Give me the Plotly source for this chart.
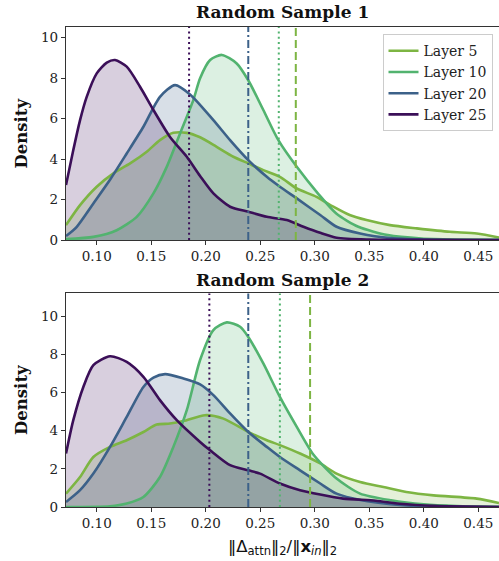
import plotly.graph_objects as go

layers = ["Layer 5", "Layer 10", "Layer 20", "Layer 25"]
colors = ["#7db543", "#52b36f", "#3c6189", "#3b0f58"]
fills = ["rgba(125,181,67,0.2)", "rgba(82,179,111,0.2)", "rgba(60,97,137,0.2)", "rgba(59,15,88,0.2)"]
mean_dash = ["8px,4px", "2px,3.3px", "8px,3px,2px,3px", "2px,3.3px"]

# ---- Random Sample 1 (density curves) ----
s1_l5_x = [0.0718, 0.0847, 0.100, 0.1153, 0.1306, 0.1459, 0.158, 0.1703, 0.1826, 0.1948, 0.21, 0.2253, 0.239, 0.2528, 0.268, 0.2835, 0.3016, 0.317, 0.332, 0.3475, 0.369, 0.3936, 0.424, 0.4486, 0.469]
s1_l5_y = [0.74, 1.73, 2.64, 3.3, 3.79, 4.37, 4.94, 5.3, 5.3, 5.08, 4.61, 4.12, 3.79, 3.46, 3.13, 2.55, 2.14, 1.65, 1.24, 0.99, 0.74, 0.58, 0.41, 0.33, 0.13]
s1_l10_x = [0.0718, 0.097, 0.1183, 0.1367, 0.152, 0.1642, 0.1764, 0.1886, 0.1948, 0.204, 0.2147, 0.2284, 0.239, 0.2528, 0.2666, 0.2835, 0.303, 0.32, 0.34, 0.367, 0.398, 0.43, 0.469]
s1_l10_y = [0.05, 0.16, 0.49, 1.15, 2.31, 3.62, 5.27, 6.92, 8.0, 8.9, 9.15, 8.73, 7.9, 6.43, 4.94, 3.62, 2.3, 1.3, 0.66, 0.25, 0.08, 0.03, 0.01]
s1_l20_x = [0.0718, 0.0817, 0.0969, 0.112, 0.1275, 0.1428, 0.158, 0.1718, 0.1856, 0.207, 0.2223, 0.239, 0.256, 0.268, 0.2835, 0.305, 0.32, 0.3416, 0.37, 0.40, 0.469]
s1_l20_y = [0.2, 0.66, 1.81, 2.97, 4.28, 5.6, 7.08, 7.66, 7.2, 5.93, 4.94, 3.95, 3.13, 2.64, 2.06, 1.24, 0.66, 0.33, 0.1, 0.03, 0.0]
s1_l25_x = [0.0718, 0.0785, 0.0847, 0.0908, 0.100, 0.1092, 0.1168, 0.1275, 0.1397, 0.152, 0.1672, 0.1826, 0.1948, 0.207, 0.2223, 0.239, 0.256, 0.2743, 0.2896, 0.305, 0.32, 0.35, 0.40, 0.469]
s1_l25_y = [2.72, 4.45, 5.93, 7.08, 8.24, 8.77, 8.9, 8.57, 7.58, 6.43, 5.1, 4.12, 3.17, 2.31, 1.65, 1.4, 1.15, 0.99, 0.66, 0.36, 0.12, 0.03, 0.01, 0.0]
s1_means = [0.2826, 0.267, 0.239, 0.1847]

# ---- Random Sample 2 (density curves) ----
s2_l5_x = [0.0718, 0.0847, 0.0969, 0.1122, 0.1275, 0.1428, 0.155, 0.1672, 0.1795, 0.1994, 0.2162, 0.239, 0.256, 0.268, 0.2865, 0.305, 0.32, 0.3416, 0.363, 0.384, 0.409, 0.4486, 0.469]
s2_l5_y = [0.7, 1.57, 2.62, 3.15, 3.5, 3.93, 4.32, 4.37, 4.5, 4.81, 4.63, 3.93, 3.5, 3.24, 2.8, 2.28, 1.75, 1.31, 1.05, 0.79, 0.61, 0.44, 0.21]
s2_l10_x = [0.0718, 0.1122, 0.1275, 0.1428, 0.158, 0.1703, 0.1826, 0.1948, 0.207, 0.2193, 0.2315, 0.239, 0.2528, 0.268, 0.2835, 0.2987, 0.32, 0.3416, 0.37, 0.40, 0.43, 0.469]
s2_l10_y = [0.0, 0.04, 0.18, 0.52, 1.57, 3.15, 5.07, 7.7, 9.27, 9.67, 9.44, 8.91, 7.52, 5.77, 4.2, 2.75, 1.49, 0.7, 0.35, 0.14, 0.05, 0.01]
s2_l20_x = [0.0718, 0.0847, 0.0969, 0.1122, 0.1275, 0.1428, 0.152, 0.1627, 0.1795, 0.1948, 0.207, 0.2223, 0.239, 0.256, 0.268, 0.2865, 0.305, 0.32, 0.343, 0.37, 0.40, 0.469]
s2_l20_y = [0.26, 0.88, 1.75, 3.15, 4.72, 6.29, 6.78, 6.96, 6.73, 6.42, 5.86, 4.9, 3.93, 3.15, 2.62, 1.92, 1.23, 0.7, 0.35, 0.14, 0.04, 0.0]
s2_l25_x = [0.0718, 0.0785, 0.0877, 0.0969, 0.1122, 0.1275, 0.1428, 0.158, 0.1734, 0.1948, 0.204, 0.2223, 0.239, 0.2498, 0.268, 0.2865, 0.305, 0.326, 0.356, 0.378, 0.41, 0.469]
s2_l25_y = [2.8, 4.55, 6.29, 7.43, 7.9, 7.6, 6.82, 5.6, 4.55, 3.41, 2.97, 2.19, 1.92, 1.75, 1.23, 0.88, 0.65, 0.44, 0.33, 0.17, 0.06, 0.0]
s2_means = [0.2957, 0.268, 0.239, 0.2033]

x_range = [0.0718, 0.469]
y_ranges = [[0, 10.53], [0, 11.19]]
x_ticks = [0.10, 0.15, 0.20, 0.25, 0.30, 0.35, 0.40, 0.45]
y_ticks = [0, 2, 4, 6, 8, 10]
titles = ["Random Sample 1", "Random Sample 2"]

samples = [
    [(s1_l5_x, s1_l5_y), (s1_l10_x, s1_l10_y), (s1_l20_x, s1_l20_y), (s1_l25_x, s1_l25_y)],
    [(s2_l5_x, s2_l5_y), (s2_l10_x, s2_l10_y), (s2_l20_x, s2_l20_y), (s2_l25_x, s2_l25_y)],
]
means = [s1_means, s2_means]

SERIF = "DejaVu Serif"
fig = go.Figure()

axis_names = [("x", "y"), ("x2", "y2")]
for p, series in enumerate(samples):
    xa, ya = axis_names[p]
    # fills first
    for i, (xs, ys) in enumerate(series):
        fig.add_trace(go.Scatter(
            x=xs, y=ys, mode="lines", xaxis=xa, yaxis=ya,
            line=dict(color="rgba(0,0,0,0)", width=0, shape="spline", smoothing=0.7),
            fill="tozeroy", fillcolor=fills[i], showlegend=False, hoverinfo="skip"))
    # then lines on top
    for i, (xs, ys) in enumerate(series):
        fig.add_trace(go.Scatter(
            x=xs, y=ys, mode="lines", xaxis=xa, yaxis=ya,
            line=dict(color=colors[i], width=2.6, shape="spline", smoothing=0.7),
            showlegend=False, hoverinfo="skip"))
    for i, m in enumerate(means[p]):
        fig.add_shape(type="line", xref=xa, yref=f"{ya} domain", x0=m, x1=m, y0=0, y1=1,
                      line=dict(color=colors[i], width=2, dash=mean_dash[i]))

for i, name in enumerate(layers):
    fig.add_trace(go.Scatter(x=[None], y=[None], mode="lines", name=name,
                             line=dict(color=colors[i], width=2.6), xaxis="x", yaxis="y"))

top_dom = [0.556, 1.0]
bot_dom = [0.0, 0.445]
axis_common = dict(showline=True, linecolor="#333333", linewidth=1.2, mirror=True,
                   ticks="outside", ticklen=4, tickcolor="#333333", showgrid=False,
                   zeroline=False, automargin=False,
                   tickfont=dict(family=SERIF, size=13.5, color="#222222"))

fig.update_layout(
    width=499, height=561,
    margin=dict(l=66, r=0, t=27, b=54),
    plot_bgcolor="white", paper_bgcolor="white",
    xaxis=dict(domain=[0, 1], anchor="y", range=x_range, tickvals=x_ticks,
               ticktext=[f"{v:.2f}" for v in x_ticks], **axis_common),
    yaxis=dict(domain=top_dom, anchor="x", range=y_ranges[0], tickvals=y_ticks, **axis_common),
    xaxis2=dict(domain=[0, 1], anchor="y2", range=x_range, tickvals=x_ticks,
                ticktext=[f"{v:.2f}" for v in x_ticks], **axis_common),
    yaxis2=dict(domain=bot_dom, anchor="x2", range=y_ranges[1], tickvals=y_ticks, **axis_common),
    legend=dict(x=0.985, y=0.985, xanchor="right", yanchor="top",
                bgcolor="rgba(255,255,255,0.85)", bordercolor="#cccccc", borderwidth=1,
                font=dict(family=SERIF, size=14, color="#222222"), itemwidth=30,
                tracegroupgap=0),
    showlegend=True,
)

annots = [
    dict(text=f"<b>{titles[0]}</b>", x=0.5, y=1.031, xref="paper", yref="paper",
         xanchor="center", yanchor="middle", showarrow=False,
         font=dict(family=SERIF, size=17, color="#111111")),
    dict(text=f"<b>{titles[1]}</b>", x=0.5, y=0.473, xref="paper", yref="paper",
         xanchor="center", yanchor="middle", showarrow=False,
         font=dict(family=SERIF, size=17, color="#111111")),
    dict(text="<b>Density</b>", x=-0.1016, y=0.778, xref="paper", yref="paper", textangle=-90,
         xanchor="center", yanchor="middle", showarrow=False,
         font=dict(family=SERIF, size=16.5, color="#111111")),
    dict(text="<b>Density</b>", x=-0.1016, y=0.223, xref="paper", yref="paper", textangle=-90,
         xanchor="center", yanchor="middle", showarrow=False,
         font=dict(family=SERIF, size=16.5, color="#111111")),
    dict(text="‖Δ<sub>attn</sub>‖<sub>2</sub>/‖<b>x</b><sub><i>in</i></sub>‖<sub>2</sub>",
         x=0.5, y=-0.085, xref="paper", yref="paper", xanchor="center", yanchor="middle",
         showarrow=False, font=dict(family="DejaVu Sans", size=16.5, color="#111111")),
]
fig.update_layout(annotations=annots)

fig.write_html("out.html", config={"displayModeBar": False},
               post_script="document.body.style.margin='0';document.body.style.overflow='hidden';")
